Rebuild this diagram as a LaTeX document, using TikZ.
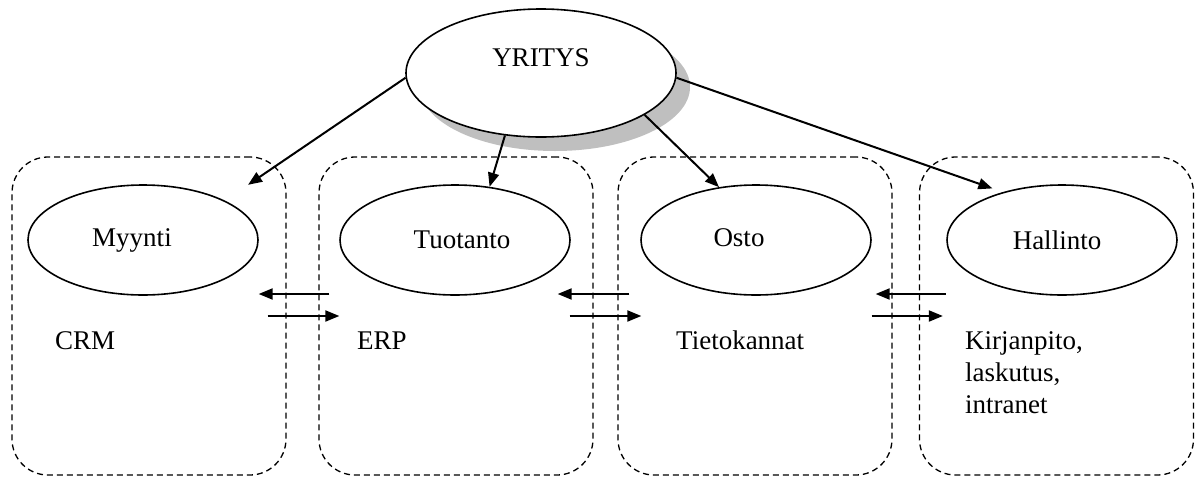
\documentclass[tikz,border=0pt]{standalone}
\usepackage{fontspec}
\setmainfont{Liberation Serif}
\usetikzlibrary{arrows.meta,shapes.geometric,shadows}
\definecolor{shadowgray}{RGB}{191,191,191}

\tikzset{
  unitbox/.style={draw, dash pattern=on 6pt off 4pt, line width=1.3pt, rounded corners=36pt,
    minimum width=274pt, minimum height=318pt, inner sep=0pt},
  dept/.style={draw, ellipse, line width=1.6pt, minimum width=230pt, minimum height=110pt, inner sep=0pt},
  note/.style={anchor=base west, inner sep=0pt, align=left},
  flow/.style={line width=2pt, -{Triangle[length=14pt,width=11pt]}},
}

\begin{document}
\begin{tikzpicture}[x=1pt, y=-1pt, font=\fontsize{27}{32}\selectfont]
    \useasboundingbox (0,0) rectangle (1203,477);
    % units
    \node[unitbox] (myyntibox) at (149,316) {};
    \node[unitbox] (tuotantobox) at (456,316) {};
    \node[unitbox] (ostobox) at (755,316) {};
    \node[unitbox] (hallintobox) at (1056.5,316) {};
    \node[dept, label={[anchor=center, xshift=-11pt]center:Myynti}] (myynti) at (143,240) {};
    \node[dept, label={[anchor=center, xshift=7pt]center:Tuotanto}] (tuotanto) at (455,240) {};
    \node[dept, label={[anchor=center, xshift=-17pt, yshift=2pt]center:Osto}] (osto) at (756,240) {};
    \node[dept, label={[anchor=center, xshift=-5pt]center:Hallinto}] (hallinto) at (1062,240) {};
    \node[note] (crm) at (55,349) {CRM};
    \node[note] (erp) at (357,349) {ERP};
    \node[note] (tietokannat) at (676,349) {Tietokannat};
    \node[note] (kirjanpito) at (965,413) {Kirjanpito,\\laskutus,\\intranet};
    % company
    \node[dept, minimum width=270pt, minimum height=128pt, fill=white,
      drop shadow={shadow xshift=14pt, shadow yshift=-14pt, fill=shadowgray, opacity=1},
      label={[anchor=center, yshift=15pt]center:YRITYS}] (yritys) at (541,73) {};
    \draw[flow, shorten >=28pt] (yritys.182) -- (myynti.north east);
    \draw[flow] (yritys.240) -- (tuotanto.57);
    \draw[flow] (yritys.338) -- (osto.125);
    \draw[flow, shorten >=11pt] (yritys.358) -- (hallinto.141);
    % between units
    \draw[flow] ([shift={(11,-22)}]tuotantobox.west) -- ([shift={(-28,-22)}]myyntibox.east);
    \draw[flow] ([xshift=-19pt]myyntibox.east) -- ([xshift=21pt]tuotantobox.west);
    \draw[flow] ([shift={(12,-22)}]ostobox.west) -- ([shift={(-36,-22)}]tuotantobox.east);
    \draw[flow] ([xshift=-24pt]tuotantobox.east) -- ([xshift=24pt]ostobox.west);
    \draw[flow] ([shift={(27,-22)}]hallintobox.west) -- ([shift={(-17,-22)}]ostobox.east);
    \draw[flow] ([xshift=-21pt]ostobox.east) -- ([xshift=24pt]hallintobox.west);
\end{tikzpicture}
\end{document}
